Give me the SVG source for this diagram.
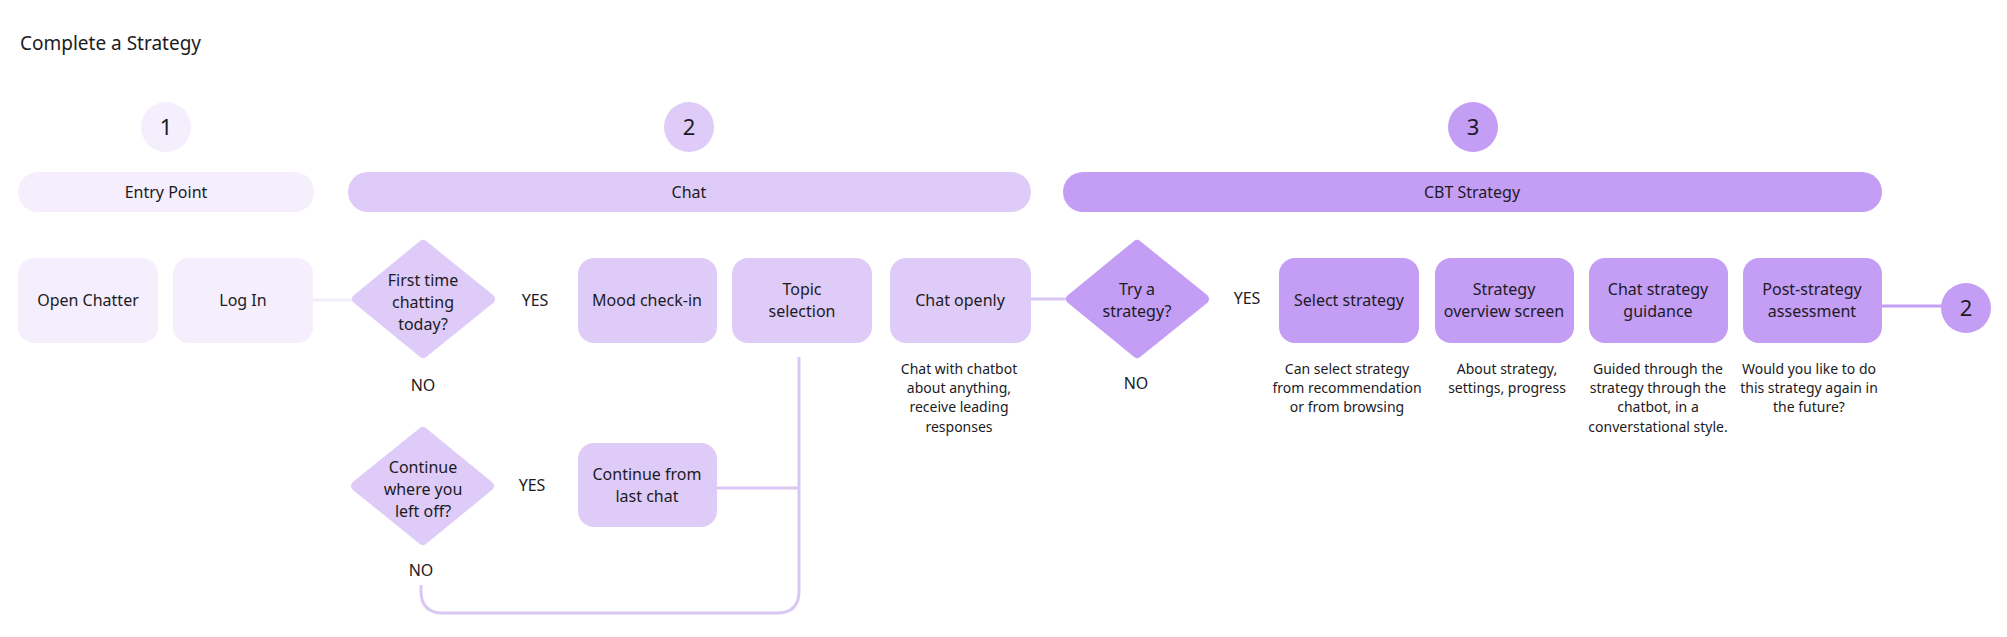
<svg xmlns="http://www.w3.org/2000/svg" width="2007" height="637" viewBox="0 0 2007 637">
<style>
text{font-family:"Noto Sans","Liberation Sans",sans-serif;fill:#1c1b24;text-anchor:middle;}
.t{font-size:16px;}
.d{font-size:14px;}
.title{font-size:19px;text-anchor:start;}
.n{font-size:22px;}
.p1{fill:#f4eefd;}
.p2{fill:#dfcbf8;}
.p3{fill:#c49df5;}
.dm2{fill:#dfcbf8;stroke:#dfcbf8;stroke-width:10;stroke-linejoin:round;}
.dm3{fill:#c49df5;stroke:#c49df5;stroke-width:10;stroke-linejoin:round;}
.c1{stroke:#f2ecfb;stroke-width:3;fill:none;}
.c2{stroke:#d9c8f4;stroke-width:3;fill:none;}
.c3{stroke:#c49df5;stroke-width:3;fill:none;}
</style>
<rect width="2007" height="637" fill="#ffffff"/>
<text class="title" x="20" y="50">Complete a Strategy</text>

<g id="connectors">
<line class="c1" x1="313" y1="300" x2="356" y2="300"/>
<line class="c2" x1="1031" y1="299" x2="1070" y2="299"/>
<line class="c3" x1="1882" y1="306" x2="1945" y2="306"/>
<line class="c2" x1="717" y1="488" x2="799" y2="488"/>
<path class="c2" d="M799 357 V591 Q799 613 777 613 H443 Q421 613 421 591 V585"/>
</g>

<g id="step1"><circle class="p1" cx="166" cy="127" r="25"/><text class="n" x="166" y="135">1</text></g>
<g id="step2"><circle class="p2" cx="689" cy="127" r="25"/><text class="n" x="689" y="135">2</text></g>
<g id="step3"><circle class="p3" cx="1473" cy="127" r="25"/><text class="n" x="1473" y="135">3</text></g>

<g id="lane-entry"><rect class="p1" x="18" y="172" width="296" height="40" rx="20"/><text class="t" x="166" y="198">Entry Point</text></g>
<g id="lane-chat"><rect class="p2" x="348" y="172" width="683" height="40" rx="20"/><text class="t" x="689" y="198">Chat</text></g>
<g id="lane-cbt"><rect class="p3" x="1063" y="172" width="819" height="40" rx="20"/><text class="t" x="1472" y="198">CBT Strategy</text></g>

<g id="open-chatter"><rect class="p1" x="18" y="258" width="140" height="85" rx="16"/><text class="t" x="88" y="306">Open Chatter</text></g>
<g id="log-in"><rect class="p1" x="173" y="258" width="140" height="85" rx="16"/><text class="t" x="243" y="306">Log In</text></g>

<g id="first-time"><polygon class="dm2" points="423,245 490,299 423,353 357,299"/>
<text class="t" x="423" y="286">First time</text><text class="t" x="423" y="308">chatting</text><text class="t" x="423" y="330">today?</text></g>
<text class="t" x="535" y="306">YES</text>
<text class="t" x="423" y="391">NO</text>

<g id="mood"><rect class="p2" x="578" y="258" width="139" height="85" rx="16"/><text class="t" x="647" y="306">Mood check-in</text></g>
<g id="topic"><rect class="p2" x="732" y="258" width="140" height="85" rx="16"/><text class="t" x="802" y="295">Topic</text><text class="t" x="802" y="317">selection</text></g>
<g id="chat-openly"><rect class="p2" x="890" y="258" width="141" height="85" rx="16"/><text class="t" x="960" y="306">Chat openly</text>
<text class="d" x="959" y="374">Chat with chatbot</text><text class="d" x="959" y="393">about anything,</text><text class="d" x="959" y="412">receive leading</text><text class="d" x="959" y="432">responses</text></g>

<g id="continue"><polygon class="dm2" points="423,432 489,486 423,540 356,486"/>
<text class="t" x="423" y="473">Continue</text><text class="t" x="423" y="495">where you</text><text class="t" x="423" y="517">left off?</text></g>
<text class="t" x="532" y="491">YES</text>
<text class="t" x="421" y="576">NO</text>
<g id="continue-last"><rect class="p2" x="578" y="443" width="139" height="84" rx="16"/><text class="t" x="647" y="480">Continue from</text><text class="t" x="647" y="502">last chat</text></g>

<g id="try"><polygon class="dm3" points="1137,245 1204,299 1137,353 1071,299"/>
<text class="t" x="1137" y="295">Try a</text><text class="t" x="1137" y="317">strategy?</text></g>
<text class="t" x="1247" y="304">YES</text>
<text class="t" x="1136" y="389">NO</text>

<g id="select"><rect class="p3" x="1279" y="258" width="140" height="85" rx="16"/><text class="t" x="1349" y="306">Select strategy</text>
<text class="d" x="1347" y="374">Can select strategy</text><text class="d" x="1347" y="393">from recommendation</text><text class="d" x="1347" y="412">or from browsing</text></g>
<g id="overview"><rect class="p3" x="1435" y="258" width="139" height="85" rx="16"/><text class="t" x="1504" y="295">Strategy</text><text class="t" x="1504" y="317">overview screen</text>
<text class="d" x="1507" y="374">About strategy,</text><text class="d" x="1507" y="393">settings, progress</text></g>
<g id="guidance"><rect class="p3" x="1589" y="258" width="139" height="85" rx="16"/><text class="t" x="1658" y="295">Chat strategy</text><text class="t" x="1658" y="317">guidance</text>
<text class="d" x="1658" y="374">Guided through the</text><text class="d" x="1658" y="393">strategy through the</text><text class="d" x="1658" y="412">chatbot, in a</text><text class="d" x="1658" y="432">converstational style.</text></g>
<g id="post"><rect class="p3" x="1743" y="258" width="139" height="85" rx="16"/><text class="t" x="1812" y="295">Post-strategy</text><text class="t" x="1812" y="317">assessment</text>
<text class="d" x="1809" y="374">Would you like to do</text><text class="d" x="1809" y="393">this strategy again in</text><text class="d" x="1809" y="412">the future?</text></g>

<g id="goto2"><circle class="p3" cx="1966" cy="308" r="25"/><text class="n" x="1966" y="316">2</text></g>
</svg>
